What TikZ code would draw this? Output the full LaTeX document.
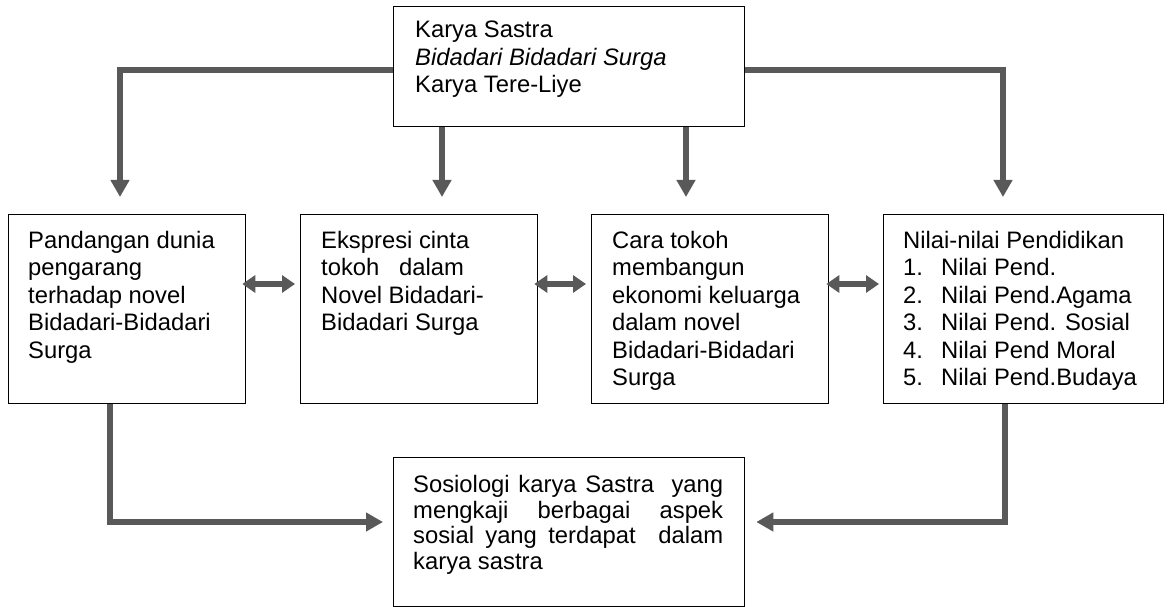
\documentclass[tikz,border=0pt]{standalone}
\usepackage{fontspec}
\setmainfont{Liberation Sans}
\usetikzlibrary{arrows.meta,calc}
\definecolor{linegray}{RGB}{89,89,89}
\begin{document}
\begin{tikzpicture}[x=1pt,y=-1pt,
  box/.style={draw=black,line width=1.3pt,inner sep=0pt,anchor=north west},
  txt/.style={inner sep=0pt,anchor=north west,align=left,font=\fontsize{23.8}{27.4}\selectfont},
  conn/.style={draw=linegray,line width=6pt,-{Triangle[width=18pt,length=17pt]}},
  dbl/.style={draw=linegray,line width=6pt,{Triangle[width=17pt,length=13pt]}-{Triangle[width=17pt,length=13pt]}}
]
\fill[white] (0,0) rectangle (1168,607);
\useasboundingbox (0,0) rectangle (1168,607);

% boxes
\node[box,minimum width=351pt,minimum height=120pt] (top) at (393,6) {};
\node[box,minimum width=237pt,minimum height=189pt] (box1) at (8,214) {};
\node[box,minimum width=237pt,minimum height=189pt] (box2) at (300,214) {};
\node[box,minimum width=237pt,minimum height=189pt] (box3) at (591,214) {};
\node[box,minimum width=280pt,minimum height=189pt] (box4) at (883,214) {};
\node[box,minimum width=351pt,minimum height=149pt] (bottom) at (393,457) {};

% texts
\node[txt] (ttop) at ([xshift=22pt,yshift=-15pt]top.north west)
  {Karya Sastra\\\textit{Bidadari Bidadari Surga}\\Karya Tere-Liye};
\node[txt] (t1) at ([xshift=20pt,yshift=-17pt]box1.north west)
  {Pandangan dunia\\pengarang\\terhadap novel\\Bidadari-Bidadari\\Surga};
\node[txt] (t2) at ([xshift=21pt,yshift=-17pt]box2.north west)
  {Ekspresi cinta\\tokoh\ \ \ dalam\\Novel Bidadari-\\Bidadari Surga};
\node[txt] (t3) at ([xshift=21pt,yshift=-17pt]box3.north west)
  {Cara tokoh\\membangun\\ekonomi keluarga\\dalam novel\\Bidadari-Bidadari\\Surga};
\node[txt] (t4) at ([xshift=20pt,yshift=-17pt]box4.north west)
  {Nilai-nilai Pendidikan\\
   \makebox[38pt][l]{1.}Nilai Pend.\\
   \makebox[38pt][l]{2.}Nilai Pend.Agama\\
   \makebox[38pt][l]{3.}Nilai Pend. Sosial\\
   \makebox[38pt][l]{4.}Nilai Pend Moral\\
   \makebox[38pt][l]{5.}Nilai Pend.Budaya};
\node[txt,text width=310pt,align=justify,font=\fontsize{23.8}{25.7}\selectfont] (tb) at ([xshift=20pt,yshift=-18pt]bottom.north west)
  {\hyphenpenalty=10000 Sosiologi karya Sastra\ \ yang\linebreak mengkaji berbagai aspek\linebreak sosial yang terdapat\ \ dalam\linebreak karya sastra};

% helper coordinates
\coordinate (lx) at (120,70);
\coordinate (rx) at (1003,70);
\coordinate (mx1) at (442,0);
\coordinate (mx2) at (686,0);
\coordinate (ay) at (0,284);
\coordinate (lbx) at (110,522);
\coordinate (rbx) at (1005,522);

% connectors from top box
\draw[conn,shorten >=17pt] (top.west |- lx) -| (box1.north -| lx);
\draw[conn,shorten >=17pt] (top.east |- rx) -| (box4.north -| rx);
\draw[conn,shorten >=17pt] (top.south -| mx1) -- (box2.north -| mx1);
\draw[conn,shorten >=17pt] (top.south -| mx2) -- (box3.north -| mx2);

% double arrows
\draw[dbl] ($(box1.east |- ay)+(-4,0)$) -- ($(box2.west |- ay)+(-5,0)$);
\draw[dbl] ($(box2.east |- ay)+(-4,0)$) -- ($(box3.west |- ay)+(-5,0)$);
\draw[dbl] ($(box3.east |- ay)+(-3,0)$) -- ($(box4.west |- ay)+(-4,0)$);

% connectors to bottom box
\draw[conn,shorten >=10pt] (box1.south -| lbx) |- (bottom.west |- lbx);
\draw[conn,shorten >=11pt] (box4.south -| rbx) |- (bottom.east |- rbx);
\end{tikzpicture}
\end{document}
